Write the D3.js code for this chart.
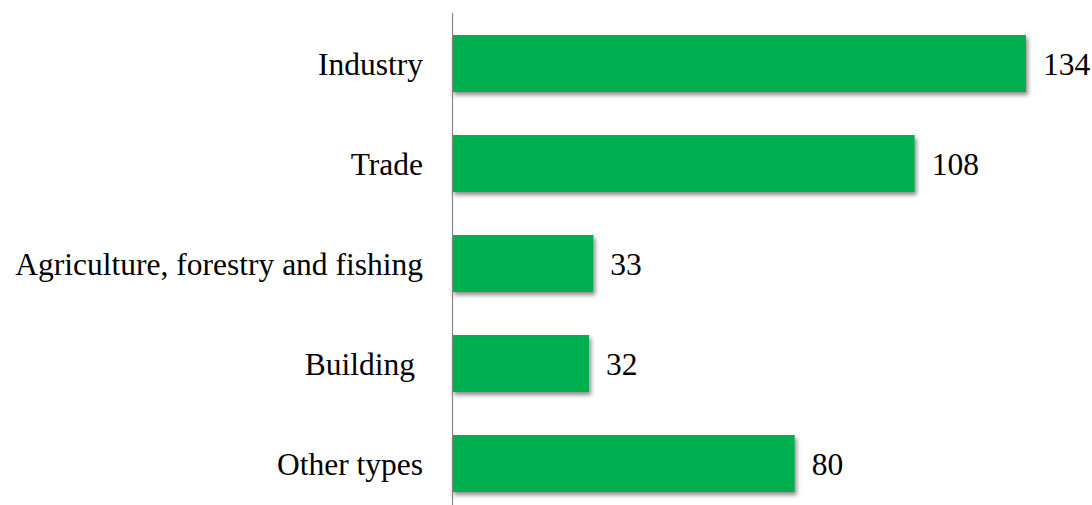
<!DOCTYPE html>
<html><head><meta charset="utf-8">
<script src="https://cdn.jsdelivr.net/npm/d3@7"></script>
<style>body{margin:0;background:#fff;}svg{display:block;}</style>
</head><body>
<script>
const categories = ["Industry", "Trade", "Agriculture, forestry and fishing", "Building ", "Other types"];
const values = [134, 108, 33, 32, 80];

const W = 1092, H = 505;
const svg = d3.select("body").append("svg").attr("width", W).attr("height", H);
const defs = svg.append("defs");
const f = defs.append("filter").attr("id", "sh").attr("x", "-5%").attr("y", "-20%").attr("width", "115%").attr("height", "150%");
f.append("feDropShadow").attr("dx", 2).attr("dy", 3).attr("stdDeviation", 2).attr("flood-color", "#000").attr("flood-opacity", 0.45);

const x = d3.scaleLinear().domain([0, 134]).range([452, 1026]);
const y = d3.scaleBand().domain(categories).range([13.5, 513.5]).paddingInner(0.43).paddingOuter(0.215);

svg.selectAll("rect.bar").data(values).join("rect").attr("class", "bar")
  .attr("x", x(0)).attr("y", (d, i) => y(categories[i]))
  .attr("width", d => x(d) - x(0)).attr("height", y.bandwidth())
  .attr("fill", "#00AF50").attr("filter", "url(#sh)");

svg.append("line").attr("x1", 452.5).attr("x2", 452.5).attr("y1", 13).attr("y2", H)
  .attr("stroke", "#888").attr("stroke-width", 1.2);

const font = "'Liberation Serif','Times New Roman',serif";
svg.selectAll("text.cat").data(categories).join("text").attr("class", "cat")
  .attr("x", 423).attr("y", d => y(d) + y.bandwidth() / 2).attr("dy", "0.35em")
  .attr("text-anchor", "end").attr("font-family", font)
  .attr("font-size", 31.5).attr("fill", "#000").style("white-space", "pre").text(d => d);

svg.selectAll("text.val").data(values).join("text").attr("class", "val")
  .attr("x", d => x(d) + 17).attr("y", (d, i) => y(categories[i]) + y.bandwidth() / 2).attr("dy", "0.35em")
  .attr("font-family", font)
  .attr("font-size", 31.5).attr("fill", "#000").text(d => d);
</script>
</body></html>
